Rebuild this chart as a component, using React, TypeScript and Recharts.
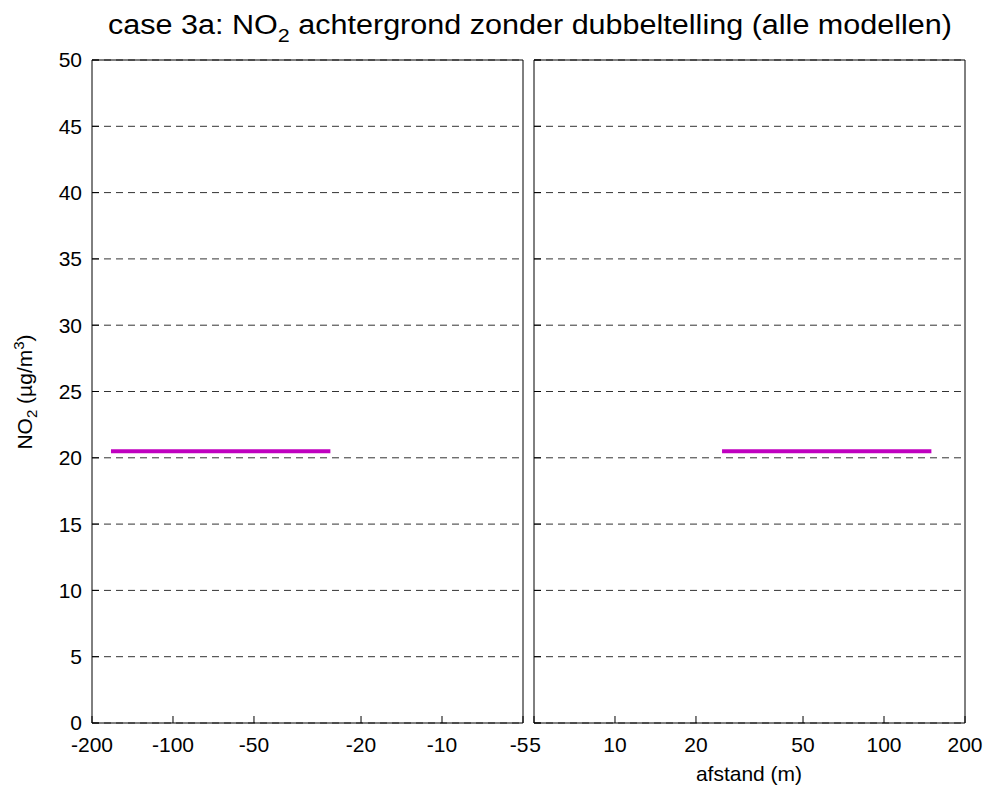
import { LineChart, Line, XAxis, YAxis, CartesianGrid } from "recharts"

// NO2 background concentration along distance from the road (m)
const leftDistance = [-170, -26]
const leftNO2 = [20.5, 20.5]
const rightDistance = [25, 150]
const rightNO2 = [20.5, 20.5]

const leftTicks = [-200, -100, -50, -20, -10, -5]
const rightTicks = [5, 10, 20, 50, 100, 200]
const yTicks = [0, 5, 10, 15, 20, 25, 30, 35, 40, 45, 50]

// left panel is drawn on a reversed log axis of |distance|
const leftData = leftDistance.map((d, i) => ({ dist: -d, no2: leftNO2[i] }))
const rightData = rightDistance.map((d, i) => ({ dist: d, no2: rightNO2[i] }))

const font = "'Liberation Sans', Arial, sans-serif"
const tickStyle = { fill: "#000", fontSize: 21, fontFamily: font }
const lineStroke = { stroke: "#000", strokeWidth: 1 }
const W = 999
const H = 787

const blank = () => ""

// bottom tick label; the -5 / 5 labels sit next to each other at the panel gap
function makeTick(neg: boolean) {
  return (props: any) => {
    const { x, y, payload } = props
    let shift = 0
    if (payload.value === 5) shift = neg ? -4 : 1
    return (
      <text x={x + shift} y={y} dy="0.71em" textAnchor="middle" {...tickStyle}>
        {neg ? `-${payload.value}` : `${payload.value}`}
      </text>
    )
  }
}

function Panel({ data, ticks, reversed, neg, left, right, showLeft, showRight }: any) {
  return (
    <LineChart
      width={W}
      height={H}
      data={data}
      margin={{ top: 0, bottom: 0, left: left, right: right }}
      style={{ position: "absolute", left: 0, top: 0 }}
    >
      <CartesianGrid horizontal vertical={false} stroke="#333" strokeDasharray="7 5" />
      <XAxis
        dataKey="dist"
        type="number"
        scale="log"
        domain={[5, 200]}
        allowDataOverflow
        reversed={reversed}
        ticks={ticks}
        interval={0}
        tick={makeTick(neg)}
        tickSize={-7}
        tickMargin={21}
        axisLine={lineStroke}
        tickLine={lineStroke}
        height={64}
      />
      <XAxis
        xAxisId="top"
        orientation="top"
        type="number"
        scale="log"
        domain={[5, 200]}
        allowDataOverflow
        reversed={reversed}
        ticks={ticks}
        interval={0}
        tickFormatter={blank}
        tick={tickStyle}
        tickSize={-7}
        axisLine={lineStroke}
        tickLine={lineStroke}
        height={60}
      />
      <YAxis
        type="number"
        domain={[0, 50]}
        ticks={yTicks}
        interval={0}
        tickFormatter={showLeft ? undefined : blank}
        tick={tickStyle}
        tickSize={-7}
        tickMargin={17}
        axisLine={lineStroke}
        tickLine={lineStroke}
        width={showLeft ? 92 : 5}
      />
      <YAxis
        yAxisId="r"
        orientation="right"
        type="number"
        domain={[0, 50]}
        ticks={yTicks}
        interval={0}
        tickFormatter={showRight ? undefined : blank}
        tick={tickStyle}
        tickSize={-7}
        tickMargin={12}
        axisLine={lineStroke}
        tickLine={lineStroke}
        width={showRight ? 34 : 6}
      />
      <Line
        dataKey="no2"
        stroke="#c000c0"
        strokeWidth={4}
        dot={false}
        isAnimationActive={false}
      />
    </LineChart>
  )
}

export default function App() {
  return (
    <div style={{ position: "absolute", left: 0, top: 0, width: W, height: H, background: "#fff" }}>
      <Panel
        data={leftData}
        ticks={leftTicks.map((t) => -t)}
        reversed
        neg
        left={0}
        right={W - 529}
        showLeft
        showRight={false}
      />
      <Panel
        data={rightData}
        ticks={rightTicks}
        reversed={false}
        neg={false}
        left={529}
        right={0}
        showLeft={false}
        showRight
      />
      <svg width={W} height={H} style={{ position: "absolute", left: 0, top: 0, pointerEvents: "none" }}>
        <text
          x={530}
          y={34}
          textAnchor="middle"
          fontFamily={font}
          fontSize={27}
          fill="#000"
          textLength={844}
          lengthAdjust="spacingAndGlyphs"
        >
          case 3a: NO<tspan fontSize={19} dy={8}>2</tspan>
          <tspan dy={-8}> achtergrond zonder dubbeltelling (alle modellen)</tspan>
        </text>
        <text
          transform="translate(32, 392) rotate(-90)"
          textAnchor="middle"
          fontFamily={font}
          fontSize={21}
          fill="#000"
        >
          NO<tspan fontSize={15} dy={5}>2</tspan>
          <tspan dy={-5}> (µg/m</tspan>
          <tspan fontSize={15} dy={-8}>3</tspan>
          <tspan dy={8}>)</tspan>
        </text>
        <text x={749} y={781} textAnchor="middle" fontFamily={font} fontSize={21} fill="#000">
          afstand (m)
        </text>
      </svg>
    </div>
  )
}
